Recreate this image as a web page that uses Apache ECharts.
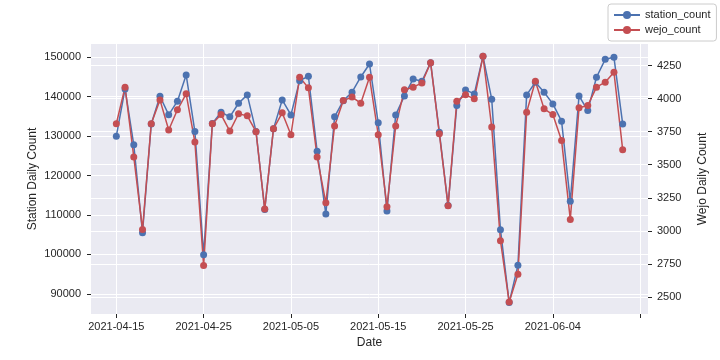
<!DOCTYPE html>
<html>
<head>
<meta charset="utf-8">
<script src="https://cdn.jsdelivr.net/npm/echarts@6/dist/echarts.min.js"></script>
<style>
  html, body { margin: 0; padding: 0; background: #fff; }
  #chart { width: 720px; height: 360px; }
</style>
</head>
<body>
<div id="chart"></div>
<script>
// daily counts, 2021-04-15 .. 2021-06-12
const startDate = '2021-04-15'
const stationCount = [
  130000, 141980, 127800, 105500, 133100, 140130, 135400, 138860, 145520, 131170,
  99950, 133200, 136080, 134890, 138350, 140460, 131200, 111420, 131850, 139190,
  135390, 144080, 145190, 126200, 110250, 134890, 139010, 141140, 145010, 148300,
  133370, 111010, 135390, 140200, 144510, 143920, 148630, 131010, 112430, 137750,
  141720, 140710, 150250, 139370, 106280, 87800, 97240, 140460, 143670, 141140,
  138180, 133800, 113500, 140200, 136480, 144940, 149490, 150000, 133110
]
const wejoCount = [
  3810, 4087, 3559, 3010, 3810, 3991, 3763, 3916, 4037, 3672,
  2737, 3810, 3880, 3755, 3886, 3870, 3750, 3164, 3772, 3893,
  3727, 4162, 4082, 3559, 3212, 3793, 3986, 4012, 3966, 4162,
  3727, 3182, 3793, 4067, 4087, 4119, 4273, 3735, 3189, 3981,
  4029, 3999, 4321, 3785, 2925, 2460, 2671, 3898, 4132, 3923,
  3880, 3684, 3086, 3931, 3948, 4087, 4125, 4200, 3614
]
const stationTicks = [90000, 100000, 110000, 120000, 130000, 140000, 150000]
const wejoTicks = [2500, 2750, 3000, 3250, 3500, 3750, 4000, 4250]
const dateTickLabels = ['2021-04-15', '2021-04-25', '2021-05-05', '2021-05-15', '2021-05-25', '2021-06-04']
const dateGridLines = dateTickLabels.concat(['2021-06-14'])

const DAY = 86400000
const t0 = Date.parse(startDate)
const dates = stationCount.map((v, i) => t0 + i * DAY)

function fmtDate(v) {
  const d = new Date(v)
  const p = n => (n < 10 ? '0' : '') + n
  return d.getUTCFullYear() + '-' + p(d.getUTCMonth() + 1) + '-' + p(d.getUTCDate())
}

const textColor = '#262626'
const font = 'Liberation Sans, Arial, sans-serif'

const chart = echarts.init(document.getElementById('chart'))
chart.setOption({
  animation: false,
  backgroundColor: '#ffffff',
  textStyle: { fontFamily: font },
  grid: { left: 91, right: 72, top: 44, bottom: 46, backgroundColor: '#EAEAF2', show: true, borderWidth: 0 },
  legend: {
    orient: 'vertical',
    left: 608,
    top: 4,
    padding: [4, 6, 4, 5],
    itemGap: 1,
    itemWidth: 26,
    itemHeight: 10,
    backgroundColor: 'rgba(255,255,255,0.8)',
    borderColor: '#cccccc',
    borderWidth: 1,
    borderRadius: 3,
    textStyle: { fontSize: 11, color: textColor, fontFamily: font, lineHeight: 14 },
    data: ['station_count', 'wejo_count']
  },
  xAxis: {
    type: 'value',
    min: t0 - 2.9 * DAY,
    max: dates[dates.length - 1] + 2.9 * DAY,
    name: 'Date',
    nameLocation: 'middle',
    nameGap: 23,
    nameTextStyle: { fontSize: 12, color: textColor, fontFamily: font },
    axisLine: { show: false },
    axisTick: { show: true, length: 4, lineStyle: { color: textColor }, customValues: dateGridLines.map(s => Date.parse(s)) },
    axisLabel: { fontSize: 11, color: textColor, margin: 7, fontFamily: font, customValues: dateTickLabels.map(s => Date.parse(s)), formatter: v => fmtDate(v) },
    splitLine: { show: true, lineStyle: { color: '#ffffff', width: 1 } }
  },
  yAxis: [
    {
      type: 'value',
      position: 'left',
      min: 84900,
      max: 153370,
      name: 'Station Daily Count',
      nameLocation: 'middle',
      nameGap: 52,
      nameMoveOverlap: false,
      nameTextStyle: { fontSize: 12, color: textColor, fontFamily: font },
      axisLine: { show: false },
      axisTick: { show: true, length: 4, lineStyle: { color: textColor }, customValues: stationTicks },
      axisLabel: { fontSize: 11, color: textColor, margin: 10, fontFamily: font, customValues: stationTicks, formatter: v => String(v) },
      splitLine: { show: true, lineStyle: { color: '#ffffff', width: 1 } }
    },
    {
      type: 'value',
      position: 'right',
      min: 2370,
      max: 4414,
      name: 'Wejo Daily Count',
      nameLocation: 'middle',
      nameGap: 49,
      nameRotate: 90,
      nameMoveOverlap: false,
      nameTextStyle: { fontSize: 12, color: textColor, fontFamily: font },
      axisLine: { show: false },
      axisTick: { show: true, length: 4, lineStyle: { color: textColor }, customValues: wejoTicks },
      axisLabel: { fontSize: 11, color: textColor, margin: 9, fontFamily: font, customValues: wejoTicks, formatter: v => String(v) },
      splitLine: { show: true, lineStyle: { color: '#ffffff', width: 1 } }
    }
  ],
  series: [
    {
      name: 'station_count',
      type: 'line',
      yAxisIndex: 0,
      data: dates.map((d, i) => [d, stationCount[i]]),
      symbol: 'circle',
      symbolSize: 7,
      showAllSymbol: true,
      lineStyle: { color: '#4C72B0', width: 1.5 },
      itemStyle: { color: '#4C72B0' }
    },
    {
      name: 'wejo_count',
      type: 'line',
      yAxisIndex: 1,
      data: dates.map((d, i) => [d, wejoCount[i]]),
      symbol: 'circle',
      symbolSize: 7,
      showAllSymbol: true,
      lineStyle: { color: '#C44E52', width: 1.5 },
      itemStyle: { color: '#C44E52' }
    }
  ]
})
</script>
</body>
</html>
